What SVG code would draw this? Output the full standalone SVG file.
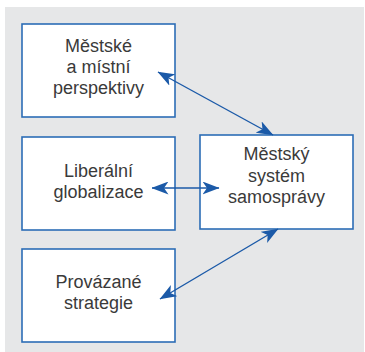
<svg xmlns="http://www.w3.org/2000/svg" width="365" height="352" viewBox="0 0 365 352">
  <style>
    .box { fill: #ffffff; stroke: #2c6db6; stroke-width: 1.6; }
    .lbl { font-family: "Liberation Sans", Arial, sans-serif; font-size: 18px; fill: #3a3a3a; text-anchor: middle; }
    .conn { stroke: #1b5aa8; stroke-width: 1.4; fill: none; marker-start: url(#ah); marker-end: url(#ah); }
  </style>
  <defs>
    <marker id="ah" viewBox="0 0 17 13" refX="16.5" refY="6.5" markerWidth="17" markerHeight="13" markerUnits="userSpaceOnUse" orient="auto-start-reverse">
      <path d="M17,6.5 L0,0 L4.5,6.5 L0,13 Z" fill="#1b5aa8"/>
    </marker>
  </defs>
  <rect x="5" y="7" width="359" height="345" fill="#e6e7e8"/>
  <g id="node-mestske">
    <rect class="box" x="22" y="24" width="153" height="93"/>
    <text class="lbl" x="98.5" y="52">Městské</text>
    <text class="lbl" x="98.5" y="73">a místní</text>
    <text class="lbl" x="98.5" y="94">perspektivy</text>
  </g>
  <g id="node-liberalni">
    <rect class="box" x="22" y="137" width="153" height="93"/>
    <text class="lbl" x="98.5" y="177">Liberální</text>
    <text class="lbl" x="98.5" y="198">globalizace</text>
  </g>
  <g id="node-provazane">
    <rect class="box" x="22" y="249" width="153" height="93"/>
    <text class="lbl" x="98.5" y="288">Provázané</text>
    <text class="lbl" x="98.5" y="309">strategie</text>
  </g>
  <g id="node-system">
    <rect class="box" x="200" y="135" width="153" height="94"/>
    <text class="lbl" x="276.5" y="160">Městský</text>
    <text class="lbl" x="276.5" y="182">systém</text>
    <text class="lbl" x="276.5" y="203">samosprávy</text>
  </g>
  <g id="connectors">
    <line class="conn" x1="158" y1="72" x2="273" y2="135"/>
    <line class="conn" x1="152" y1="188" x2="219" y2="188"/>
    <line class="conn" x1="160" y1="299" x2="278" y2="229"/>
  </g>
</svg>
